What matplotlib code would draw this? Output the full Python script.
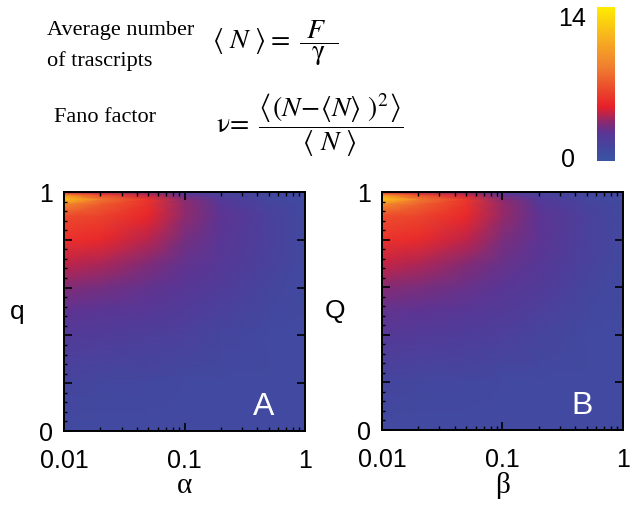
import numpy as np
import matplotlib
matplotlib.use('Agg')
from matplotlib import pyplot as plt
from matplotlib.colors import LinearSegmentedColormap
import matplotlib.ticker as ticker

# grid (Fano factor, colour scale 0..14)
alpha = [0.01, 0.02, 0.05, 0.1, 0.2, 0.5, 1.0]
q = [0.0, 0.2, 0.4, 0.5, 0.6, 0.7, 0.8, 0.9, 0.95, 0.97, 0.99, 1.0]
fano_A = [
    [0.9, 0.9, 0.9, 0.9, 0.9, 0.9, 0.9],
    [1.3, 1.2, 1.1, 1.0, 1.0, 0.9, 0.9],
    [2.1, 2.0, 1.8, 1.6, 1.3, 1.0, 0.9],
    [2.6, 2.5, 2.3, 2.0, 1.6, 1.2, 0.9],
    [3.3, 3.1, 2.7, 2.4, 2.0, 1.3, 0.9],
    [4.3, 4.0, 3.3, 2.7, 2.3, 1.5, 1.0],
    [5.5, 5.2, 4.2, 3.1, 2.5, 1.6, 1.0],
    [6.5, 6.2, 5.1, 3.6, 2.6, 1.6, 1.0],
    [9.0, 7.2, 5.5, 3.6, 2.4, 1.4, 1.0],
    [12.0, 8.2, 5.6, 3.4, 2.1, 1.2, 0.9],
    [8.5, 6.2, 4.3, 2.6, 1.6, 1.1, 0.9],
    [4.5, 3.6, 2.7, 1.8, 1.3, 1.0, 0.9],
]
fano_B = [
    [0.9, 0.9, 0.9, 0.9, 0.9, 0.9, 0.9],
    [1.3, 1.2, 1.1, 1.0, 1.0, 0.9, 0.9],
    [2.2, 2.1, 1.9, 1.7, 1.4, 1.0, 0.9],
    [2.7, 2.6, 2.4, 2.1, 1.7, 1.2, 0.9],
    [3.4, 3.2, 2.8, 2.5, 2.1, 1.3, 0.9],
    [4.4, 4.1, 3.4, 2.8, 2.4, 1.5, 1.0],
    [5.6, 5.3, 4.3, 3.2, 2.6, 1.6, 1.0],
    [6.6, 6.3, 5.2, 3.7, 2.6, 1.6, 1.0],
    [9.2, 7.4, 5.6, 3.7, 2.4, 1.4, 1.0],
    [12.3, 8.4, 5.7, 3.4, 2.1, 1.2, 0.9],
    [8.7, 6.3, 4.4, 2.7, 1.6, 1.1, 0.9],
    [4.6, 3.7, 2.7, 1.8, 1.3, 1.0, 0.9],
]

cmap = LinearSegmentedColormap.from_list('fano', [
    (0.0, '#3a55a5'), (0.08, '#43479f'), (0.18, '#5a3595'),
    (0.25, '#8a2a70'), (0.35, '#e8202a'), (0.61, '#f08030'),
    (0.79, '#f8b020'), (1.0, '#ffee00')])

plt.rcParams['font.family'] = ['Liberation Sans', 'DejaVu Sans']
plt.rcParams['mathtext.fontset'] = 'stix'
fig = plt.figure(figsize=(6.32, 5.05), dpi=100)


def panel(rect, data, xlab, ylab, letter):
    ax = fig.add_axes(rect)
    X, Y = np.meshgrid(np.log10(alpha), q)
    ax.pcolormesh(X, Y, np.array(data), cmap=cmap, vmin=0, vmax=14,
                  shading='gouraud', rasterized=True)
    ax.set_xlim(-2, 0)
    ax.set_ylim(0, 1)
    ax.set_xticks([-2, -1, 0])
    ax.set_xticklabels(['0.01', '0.1', '1'])
    minors = [np.log10(m * d) for d in (0.01, 0.1) for m in range(2, 10)]
    ax.set_xticks(minors, minor=True)
    ax.set_yticks([0, 0.2, 0.4, 0.6, 0.8, 1.0])
    ax.set_yticklabels(['0', '', '', '', '', '1'])
    ax.yaxis.set_minor_locator(ticker.MultipleLocator(0.04))
    ax.tick_params(which='major', direction='in', length=6, width=1.2,
                   top=True, right=True, labelsize=18, pad=8)
    ax.tick_params(axis='x', which='major', pad=13)
    ax.tick_params(which='minor', direction='in', length=3, width=1.0,
                   top=True, right=False)
    ax.tick_params(axis='y', which='minor', length=2)
    for s in ax.spines.values():
        s.set_linewidth(1.4)
    ax.set_xlabel(xlab, fontsize=21, labelpad=0,
                  family=['Liberation Serif', 'DejaVu Serif'])
    ax.set_ylabel(ylab, fontsize=19, rotation=0, labelpad=16, va='center')
    ax.text(0.83, 0.1, letter, transform=ax.transAxes, color='white',
            fontsize=23, ha='center', va='center')
    return ax


panel([0.1013, 0.1465, 0.3813, 0.4733], fano_A, 'α', 'q', 'A')
panel([0.6044, 0.1485, 0.3813, 0.4713], fano_B, 'β', 'Q', 'B')

# colour bar
cax = fig.add_axes([0.9446, 0.681, 0.027, 0.305])
grad = np.linspace(0, 14, 256).reshape(-1, 1)
cax.imshow(grad, aspect='auto', cmap=cmap, origin='lower',
           extent=[0, 1, 0, 14])
cax.set_axis_off()
fig.text(0.905, 0.962, '14', fontsize=18, ha='center', va='center')
fig.text(0.898, 0.683, '0', fontsize=18, ha='center', va='center')

# formulas
serif = ['Liberation Serif', 'DejaVu Serif']
fig.text(0.074, 0.94, 'Average number', fontsize=16, family=serif, va='center')
fig.text(0.074, 0.88, 'of trascripts', fontsize=16, family=serif, va='center')
fig.text(0.085, 0.768, 'Fano factor', fontsize=16, family=serif, va='center')
fig.text(0.335, 0.915,
         r'$\left\langle\ N\ \right\rangle=\ \dfrac{\ F\ \ }{\mathrm{\gamma}}$',
         fontsize=20, va='center')
fig.text(0.342, 0.752,
         r'$\mathrm{\nu}\!=\ \dfrac{\left\langle(N\!-\!\left\langle N\right\rangle\ )^2\right\rangle}{\left\langle\ N\ \right\rangle}$',
         fontsize=20, va='center')

fig.savefig('out.png', dpi=100)
